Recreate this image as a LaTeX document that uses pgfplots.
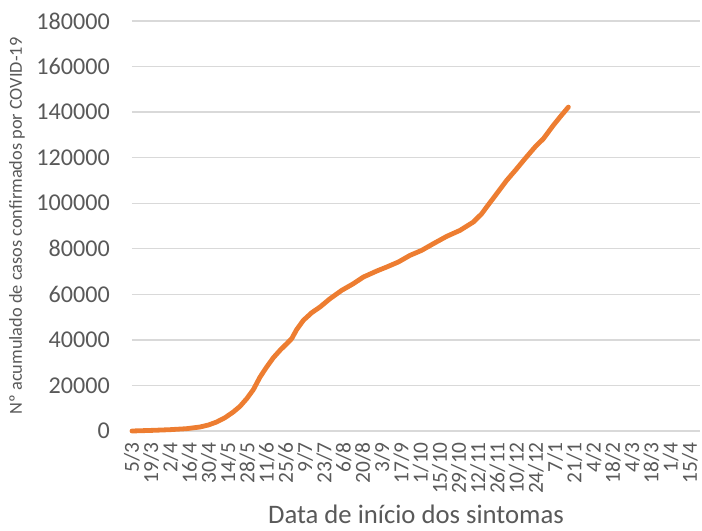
\documentclass[border=0pt]{standalone}
\usepackage{fontspec}
\setmainfont{Carlito}
\usepackage{pgfplots}
\pgfplotsset{compat=1.18}
\definecolor{lineor}{HTML}{ED7D31}
\definecolor{gridc}{HTML}{D9D9D9}
\definecolor{txt}{HTML}{595959}
\begin{document}
\begin{tikzpicture}
\begin{axis}[
  at={(0,0)}, anchor=south west,
  scale only axis, width=568bp, height=410bp,
  xmin=0, xmax=413.4, ymin=0, ymax=180000,
  scaled y ticks=false,
  axis line style={draw=none},
  axis x line*=bottom,
  x axis line style={draw=gridc, line width=1.3bp},
  axis y line*=left,
  y axis line style={draw=none},
  ymajorgrids, grid style={gridc, line width=1.3bp},
  major tick length=0pt,
  ytick={0,20000,40000,60000,80000,100000,120000,140000,160000,180000},
  yticklabels={0,20000,40000,60000,80000,100000,120000,140000,160000,180000},
  xtick={0,14,28,42,56,70,84,98,112,126,140,154,168,182,196,210,224,238,252,266,280,294,308,322,336,350,364,378,392,406},
  xticklabels={5/3,19/3,2/4,16/4,30/4,14/5,28/5,11/6,25/6,9/7,23/7,6/8,20/8,3/9,17/9,1/10,15/10,29/10,12/11,26/11,10/12,24/12,7/1,21/1,4/2,18/2,4/3,18/3,1/4,15/4},
  yticklabel style={font=\fontsize{24.2}{26}\selectfont, text=txt, anchor=east, inner sep=0pt},
  yticklabel shift=22bp,
  xticklabel style={font=\fontsize{21.5}{22}\selectfont, text=txt, rotate=90, anchor=east, inner sep=0pt},
  xticklabel shift=11bp,
  xlabel={Data de início dos sintomas},
  xlabel style={font=\fontsize{26.8}{30}\selectfont, text=txt, inner sep=0pt, at={(axis description cs:0.5,-0.2257)}, anchor=base},
  ylabel={Nº acumulado de casos confirmados por COVID-19},
  ylabel style={font=\fontsize{18.4}{20}\selectfont, text=txt, at={(axis description cs:-0.2025,0.5)}, anchor=center},
  clip=false,
]
\addplot[lineor, line width=4.8bp, line cap=round, line join=round] coordinates {
(0,0) (15.5,293) (27.7,585) (39.8,1024) (49.5,1756) (55.6,2633) (61.6,3950)
(67.7,5852) (73.7,8339) (78.6,10826) (83.5,14191) (88.3,18141) (93.2,23701)
(98.0,28090) (102.9,32186) (107.7,35405) (112.6,38331) (116.2,40525)
(119.8,44475) (124.7,48572) (130.8,51937) (136.8,54424) (144.1,58081)
(152.6,61739) (161.1,64665) (168.4,67591) (178.1,70224) (185.3,71980)
(193.8,74174) (202.3,77100) (210.8,79295) (219.3,82221) (229.0,85439)
(238.7,88073) (248.4,91730) (254.5,95388) (258.1,98314) (265.4,104166)
(272.7,110018) (280.0,115138) (286.0,119527) (293.3,124648) (299.4,128305)
(306.6,134157) (311.5,137815) (317.6,142204)
};
\end{axis}
\pgfresetboundingbox
\path[use as bounding box] (-132bp,-100bp) rectangle (570bp,431bp);
\end{tikzpicture}
\end{document}
